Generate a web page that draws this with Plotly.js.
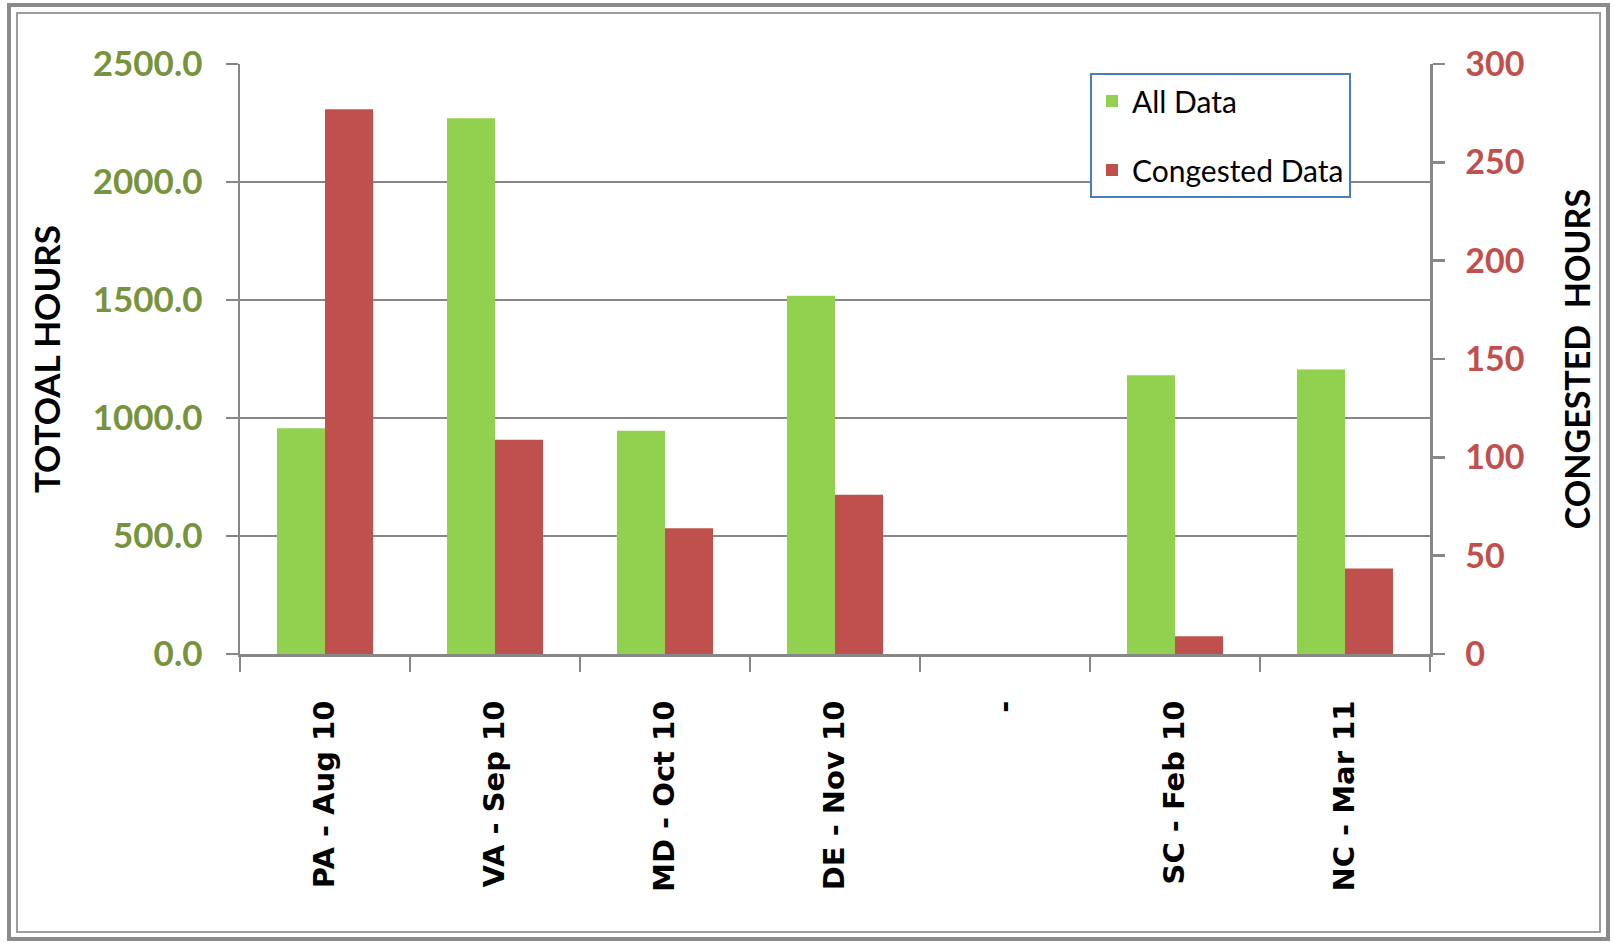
<!DOCTYPE html>
<html>
<head>
<meta charset="utf-8">
<script src="https://cdn.plot.ly/plotly-3.0.1.min.js"></script>
<style>
  html, body { margin: 0; padding: 0; background: #ffffff; }
  #chart { width: 1615px; height: 943px; }
</style>
</head>
<body>
<div id="chart"></div>
<script>
// ---- data ----
const categories = ['PA - Aug 10', 'VA - Sep 10', 'MD - Oct 10', 'DE - Nov 10', '-', 'SC - Feb 10', 'NC - Mar 11'];
const allDataHours = [957, 2270, 946, 1518, null, 1181, 1205];
const congestedHours = [277, 109, 64, 81, null, 9, 43.5];
const leftTickLabelsRange = [0, 2500];
const rightTickLabelsRange = [0, 300];
const seriesNames = ['All Data', 'Congested Data'];
const leftTitle = 'TOTOAL HOURS';
const rightTitle = 'CONGESTED\u00a0 HOURS';

// ---- layout geometry (pixels) ----
const W = 1615, H = 943;
const plotL = 240, plotR = 1430, plotT = 64, plotB = 654;
const pw = plotR - plotL, ph = plotB - plotT;
const px = x => (x - plotL) / pw;
const py = y => 1 - (y - plotT) / ph;

const GRID = '#878787';
const GREEN = '#92D050';
const RED = '#C0504D';
const GREEN_TXT = '#77933C';

const traces = [
  {
    type: 'bar', name: seriesNames[0], x: categories, y: allDataHours,
    yaxis: 'y', offsetgroup: 'a', legendgroup: 'a',
    marker: { color: GREEN, line: { width: 0 } },
    hoverinfo: 'skip'
  },
  {
    type: 'bar', name: seriesNames[1], x: categories, y: congestedHours,
    yaxis: 'y2', offsetgroup: 'b', legendgroup: 'b',
    marker: { color: RED, line: { width: 0 } },
    hoverinfo: 'skip'
  }
];

const tickFontL = { family: 'Lato, sans-serif', size: 35, color: GREEN_TXT, weight: 700 };
const tickFontR = { family: 'Lato, sans-serif', size: 34, color: RED, weight: 700 };
const titleFontL = { family: 'Lato, sans-serif', size: 35, color: '#000000', weight: 700 };
const titleFontR = { family: 'Lato, sans-serif', size: 34, color: '#000000', weight: 700 };

const layout = {
  width: W, height: H,
  paper_bgcolor: '#ffffff', plot_bgcolor: '#ffffff',
  margin: { l: plotL, r: W - plotR, t: plotT, b: H - plotB, pad: 0 },
  barmode: 'group', bargap: 0.435, bargroupgap: 0,
  showlegend: true,
  legend: {
    x: px(1090), y: py(73), xanchor: 'left', yanchor: 'top',
    bgcolor: '#ffffff', bordercolor: '#4A7EBB', borderwidth: 2,
    font: { family: 'Lato, sans-serif', size: 30, color: '#000000' },
    tracegroupgap: 27, traceorder: 'grouped'
  },
  xaxis: {
    type: 'category', automargin: false,
    showline: true, linecolor: GRID, linewidth: 3,
    ticks: 'outside', tickson: 'boundaries', ticklen: 15, tickwidth: 2.5, tickcolor: GRID,
    tickangle: -90, ticklabelstandoff: 32,
    tickfont: { family: 'DejaVu Sans, sans-serif', size: 29, color: '#000000', weight: 700 },
    showgrid: false, zeroline: false, fixedrange: true
  },
  yaxis: {
    range: leftTickLabelsRange, dtick: 500, tick0: 0, tickformat: '.1f',
    automargin: false,
    showline: true, linecolor: GRID, linewidth: 2.5,
    ticks: 'outside', ticklen: 12, tickwidth: 2.5, tickcolor: GRID,
    ticklabelstandoff: 16,
    tickfont: tickFontL,
    showgrid: true, gridcolor: GRID, gridwidth: 2.5, zeroline: false,
    title: { text: leftTitle, font: titleFontL, standoff: 22 },
    fixedrange: true
  },
  yaxis2: {
    range: rightTickLabelsRange, dtick: 50, tick0: 0,
    overlaying: 'y', side: 'right', automargin: false,
    showline: true, linecolor: GRID, linewidth: 2.5,
    ticks: 'outside', ticklen: 12, tickwidth: 2.5, tickcolor: GRID,
    ticklabelstandoff: 14,
    tickfont: tickFontR,
    showgrid: false, zeroline: false,
    title: { text: rightTitle, font: titleFontR, standoff: 43 },
    fixedrange: true
  },
  shapes: [
    { type: 'rect', xref: 'paper', yref: 'paper', layer: 'above',
      x0: px(9), x1: px(1608), y0: py(5), y1: py(939),
      line: { color: '#8A8A8A', width: 4 } },
    { type: 'rect', xref: 'paper', yref: 'paper', layer: 'above',
      x0: px(17), x1: px(1600), y0: py(13), y1: py(932),
      line: { color: '#9C9C9C', width: 2 } }
  ]
};

Plotly.newPlot('chart', traces, layout, { displayModeBar: false, staticPlot: true });
</script>
</body>
</html>
